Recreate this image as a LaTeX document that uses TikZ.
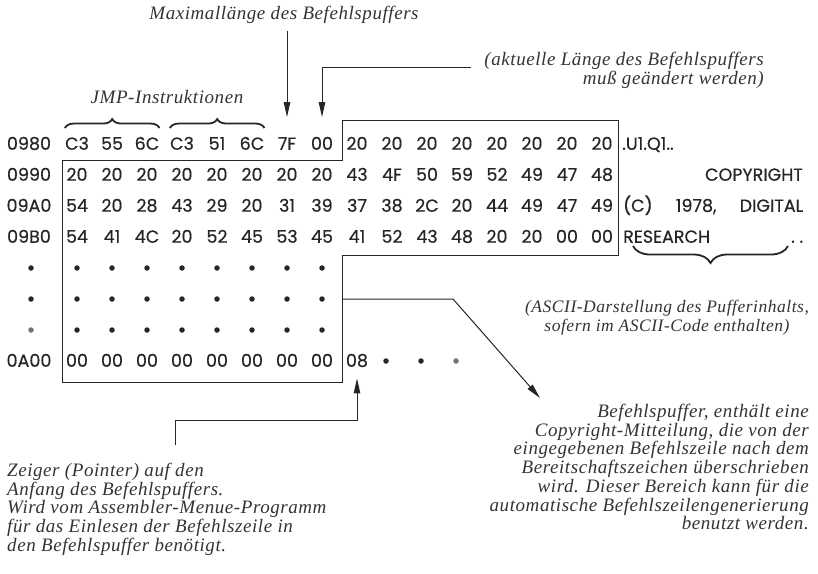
\documentclass[tikz,border=0pt]{standalone}
\usepackage{fontspec}
\setmainfont{Liberation Serif}
\newfontfamily\hexfont[FakeBold=0.4]{Poppins}
\newfontfamily\notefont[LetterSpace=3]{Liberation Serif}
\usepackage{tikz}
\usetikzlibrary{arrows.meta,positioning,calc,decorations.pathreplacing}

\begin{document}
\begin{tikzpicture}[x=1pt,y=-1pt,
  hex/.style={font=\hexfont\fontsize{17.5}{17.5}\selectfont, inner sep=0pt, text height=11.5pt, text depth=0pt, text=black!85},
  note/.style={font=\notefont\itshape\fontsize{19}{18.7}\selectfont, text=black!80, inner sep=0pt},
  pfeil/.style={line width=1pt, draw=black!85, -{Triangle[length=15pt,width=6.5pt]}},
  klammer/.style={decorate, decoration={brace,amplitude=#1}, line width=1.8pt, draw=black!85},
  punkt/.style={circle, fill=black!85, inner sep=0pt, minimum size=5.5pt}]

  \useasboundingbox (0,0) rectangle (818,573);

  % Adressen
  \node[hex] (a0) at (29,144) {0980};
  \node[hex] (a1) at (29,175) {0990};
  \node[hex] (a2) at (29,206) {09A0};
  \node[hex] (a3) at (29,237) {09B0};
  \node[punkt] (a4) at (31,268) {};
  \node[punkt] (a5) at (31,299) {};
  \node[punkt, fill=black!55] (a6) at (31,330) {};
  \node[hex] (a7) at (29,361) {0A00};

  % Speicherinhalt
  \foreach \zeile/\werte in {0/{C3,55,6C,C3,51,6C,7F,00,20,20,20,20,20,20,20,20},
      1/{20,20,20,20,20,20,20,20,43,4F,50,59,52,49,47,48},
      2/{54,20,28,43,29,20,31,39,37,38,2C,20,44,49,47,49},
      3/{54,41,4C,20,52,45,53,45,41,52,43,48,20,20,00,00},
      7/{00,00,00,00,00,00,00,00,08}}
    \foreach \w [count=\c from 0] in \werte
      \node[hex] (h\zeile-\c) at ({77+35*\c},{144+31*\zeile}) {\w};
  \foreach \zeile in {4,5,6}
    \foreach \c in {0,...,7}
      \node[punkt] (h\zeile-\c) at ({77+35*\c},{144+31*\zeile}) {};
  \node[punkt] (h7-9) at (386,361) {};
  \node[punkt] (h7-10) at (421,361) {};
  \node[punkt, fill=black!55] (h7-11) at (456,361) {};

  % Befehlspuffer
  \draw[line width=1pt, black!85] (62,160) -- (342,160) -- (342,120) -- (618,120)
    -- (618,255) -- (342,255) -- (342,382) -- (62,382) -- cycle;
  \coordinate (stufe) at (342,255);

  % ASCII
  \node[hex, anchor=west] (asc0) at (622,144) {.U1.Q1..};
  \node[hex, anchor=east] (asc1) at (803,175) {COPYRIGHT};
  \node[hex, anchor=west] (asc2) at (623,206) {\makebox[180pt]{(C)\hfill 1978,\hfill DIGITAL}};
  \node[hex, anchor=west] (asc3) at (623,237) {\makebox[180pt]{RESEARCH\hfill . .}};

  \draw[klammer=9pt] ([yshift=10pt]h0-0.north west) -- ([yshift=10pt]h0-2.north east);
  \draw[klammer=9pt] ([yshift=10pt]h0-3.north west) -- ([yshift=10pt]h0-5.north east);
  \draw[klammer=17pt] (788,246) -- (633,246);

  \node[note] (jmp) at (167,97) {JMP-Instruktionen};
  \node[note] (maxlen) at (284,15) {Maximallänge des Befehlspuffers};
  \node[note, align=right, anchor=north east] (akt) at (764,52)
    {(aktuelle Länge des Befehlspuffers\\muß geändert werden)};
  \node[note, font=\notefont\itshape\fontsize{17.5}{18.7}\selectfont, align=center] (ascii) at (667,318)
    {(ASCII-Darstellung des Pufferinhalts,\\sofern im ASCII-Code enthalten)};
  \node[note, align=left, anchor=north west] (zeiger) at (7,463)
    {Zeiger (Pointer) auf den\\Anfang des Befehlspuffers.\\Wird vom Assembler-Menue-Programm\\für das Einlesen der Befehlszeile in\\den Befehlspuffer benötigt.};
  \node[note, align=right, anchor=north east] (bp) at (809,404)
    {Befehlspuffer, enthält eine\\Copyright-Mitteilung, die von der\\eingegebenen Befehlszeile nach dem\\Bereitschaftszeichen überschrieben\\wird. Dieser Bereich kann für die\\automatische Befehlszeilengenerierung\\benutzt werden.};
  \coordinate (bpspitze) at (540,398);

  \draw[pfeil, shorten <=7pt] (maxlen.south -| h0-6) -- ([yshift=21pt]h0-6.north);
  \draw[pfeil] ([xshift=-13pt,yshift=3pt]akt.west) -| ([yshift=21pt]h0-7.north);
  \draw[pfeil] ([xshift=168pt,yshift=18pt]zeiger.north west) -- ++(0,-25) -| ([yshift=-11.5pt]h7-8.south);
  \draw[pfeil] (h5-7 -| stufe) -- ++(111,0) -- (bpspitze);
\end{tikzpicture}
\end{document}
